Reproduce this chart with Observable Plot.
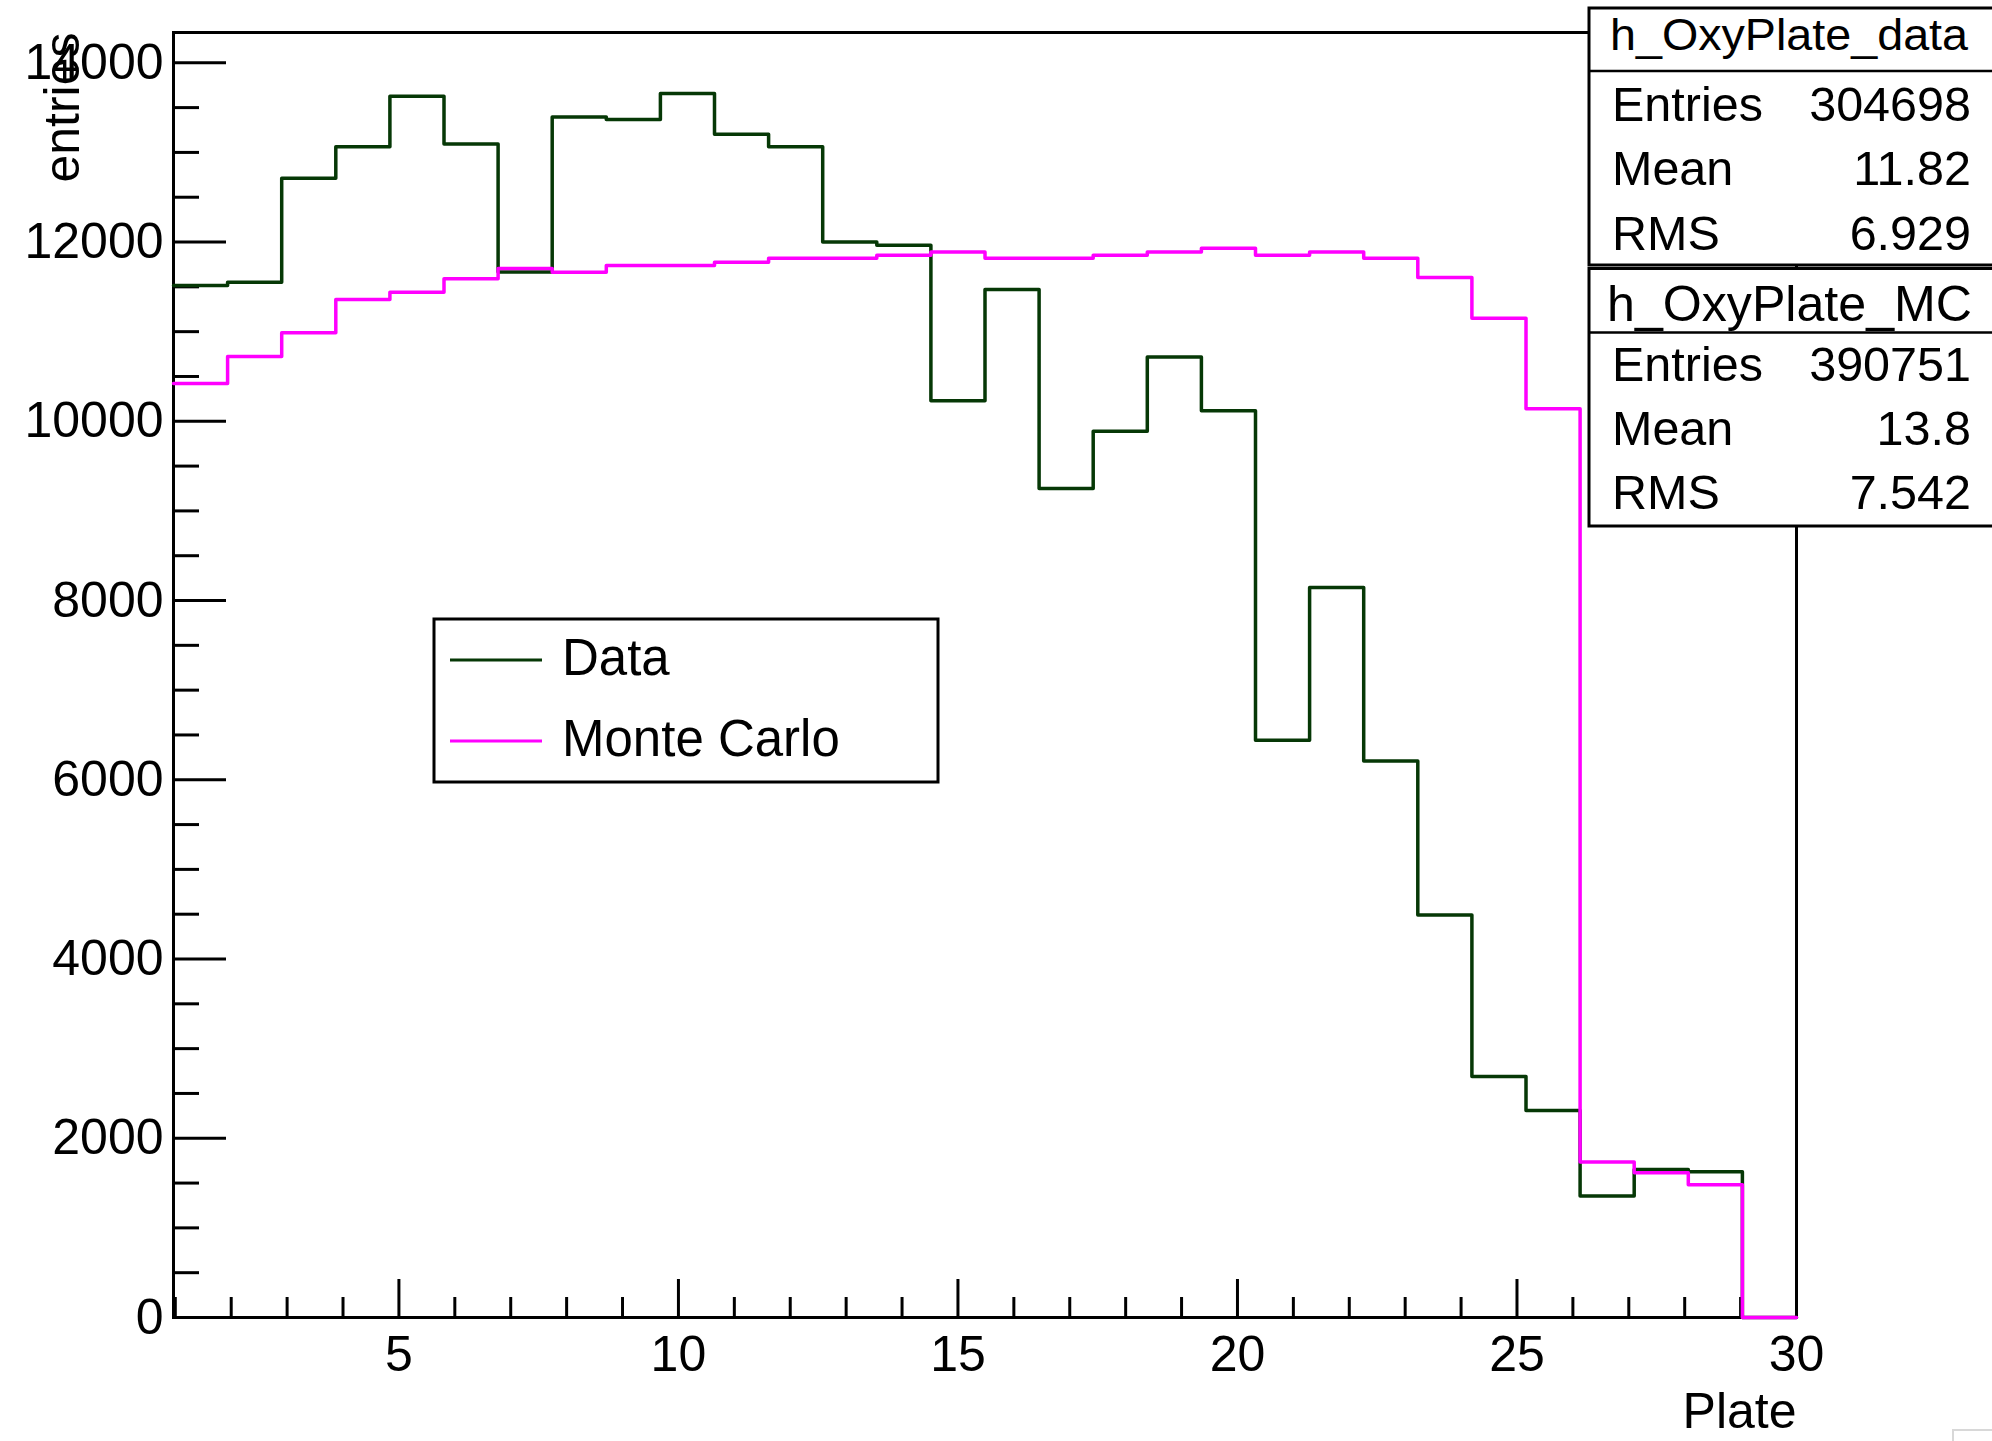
<!DOCTYPE html>
<html><head><meta charset="utf-8">
<script src="https://cdn.jsdelivr.net/npm/d3@7"></script>
<script src="https://cdn.jsdelivr.net/npm/@observablehq/plot@0.6"></script>
<style>
html,body{margin:0;padding:0;background:#fff;}
#wrap{position:relative;width:1992px;height:1441px;overflow:hidden;background:#fff;font-family:"Liberation Sans",Arial,Helvetica,sans-serif;}
#overlay{position:absolute;left:0;top:0;}
</style></head>
<body><div id="wrap"></div>
<script>
// ---- histogram definition (ROOT TH1: 31 bins on [0,30]; shown from bin 2) ----
const nBins = 31, xMin = 0, xMax = 30;
const firstShownBin = 1;

// ---- bin contents (shown bins, left to right) ----
const dataCounts = [11515, 11552, 12711, 13063, 13626, 13093, 11667, 13396, 13367, 13656,
                    13204, 13063, 12000, 11963, 10230, 11470, 9250, 9889, 10718, 10118,
                    6440, 8145, 6210, 4490, 2690, 2310, 1355, 1650, 1625, 0];
const mcCounts   = [10422, 10722, 10989, 11359, 11441, 11589, 11705, 11663, 11737, 11737,
                    11774, 11819, 11819, 11852, 11889, 11819, 11819, 11852, 11889, 11930,
                    11852, 11889, 11819, 11605, 11150, 10140, 1735, 1615, 1480, 0];

const seriesNames  = ["Data", "Monte Carlo"];
const seriesColors = ["#063806", "#ff00ff"];

const statTitles = ["h_OxyPlate_data", "h_OxyPlate_MC"];
const statLabels = ["Entries", "Mean", "RMS"];
const statValues = [["304698", "11.82", "6.929"], ["390751", "13.8", "7.542"]];

const xMajorTicks = [5, 10, 15, 20, 25, 30];
const xMinorTicks = [1, 2, 3, 4, 6, 7, 8, 9, 11, 12, 13, 14, 16, 17, 18, 19, 21, 22, 23, 24, 26, 27, 28, 29];
const yMajorTicks = [0, 2000, 4000, 6000, 8000, 10000, 12000, 14000];
const yMinorTicks = [500, 1000, 1500, 2500, 3000, 3500, 4500, 5000, 5500, 6500, 7000, 7500,
                     8500, 9000, 9500, 10500, 11000, 11500, 12500, 13000, 13500];
const yMax = 14338;
const xTitle = "Plate", yTitle = "entries";

// ---- build step outlines ----
const bw = (xMax - xMin) / nBins;
function steps(counts, name) {
  const pts = counts.map((c, i) => ({x: xMin + (firstShownBin + i) * bw, y: c, s: name}));
  pts.push({x: xMin + (firstShownBin + counts.length) * bw, y: counts[counts.length - 1], s: name});
  return pts;
}
const dataPts = steps(dataCounts, seriesNames[0]);
const mcPts = steps(mcCounts, seriesNames[1]);

const W = 1992, H = 1441;
const mL = 173, mR = 196, mT = 32, mB = 124;
const FONT = "Liberation Sans, Arial, Helvetica, sans-serif";

const chart = Plot.plot({
  width: W, height: H,
  marginLeft: mL, marginRight: mR, marginTop: mT, marginBottom: mB,
  style: {background: "white", color: "black", fontFamily: FONT, fontSize: "50px"},
  x: {domain: [xMin + firstShownBin * bw, xMax], label: null},
  y: {domain: [0, yMax], label: null},
  marks: [
    Plot.frame({stroke: "black", strokeWidth: 3}),
    Plot.axisX(xMinorTicks, {tickSize: -20, tickFormat: () => "", label: null, strokeWidth: 3}),
    Plot.axisX(xMajorTicks, {tickSize: -38, tickFormat: () => "", label: null, strokeWidth: 3}),
    Plot.axisX(xMajorTicks, {tickSize: 0, tickPadding: 18, fontSize: 50, label: null}),
    Plot.axisY(yMinorTicks, {tickSize: -26, tickFormat: () => "", label: null, strokeWidth: 3}),
    Plot.axisY(yMajorTicks, {tickSize: -53, tickFormat: () => "", label: null, strokeWidth: 3}),
    Plot.axisY(yMajorTicks, {tickSize: 0, tickPadding: 10, fontSize: 50, tickFormat: d => String(d), label: null}),
    Plot.text([yTitle], {text: d => d, frameAnchor: "top-left", rotate: -90, textAnchor: "end",
                         lineAnchor: "bottom", dx: -95, fontSize: 50}),
    Plot.text([xTitle], {text: d => d, frameAnchor: "bottom-right", textAnchor: "end",
                         lineAnchor: "bottom", dy: 110, fontSize: 50}),
    Plot.line(dataPts, {x: "x", y: "y", curve: "step-after", stroke: seriesColors[0], strokeWidth: 3.5}),
    Plot.line(mcPts, {x: "x", y: "y", curve: "step-after", stroke: seriesColors[1], strokeWidth: 3.5})
  ]
});
const wrap = document.getElementById("wrap");
wrap.appendChild(chart);

// ---- overlay: legend + stats boxes ----
const ov = d3.select(wrap).append("svg").attr("id", "overlay")
  .attr("width", W).attr("height", H).style("font-family", FONT);

// legend
const leg = ov.append("g");
leg.append("rect").attr("x", 434).attr("y", 619).attr("width", 504).attr("height", 163)
  .attr("fill", "white").attr("stroke", "black").attr("stroke-width", 3);
seriesNames.forEach((n, i) => {
  const yc = 660 + i * 81;
  leg.append("line").attr("x1", 450).attr("x2", 542).attr("y1", yc).attr("y2", yc)
    .attr("stroke", seriesColors[i]).attr("stroke-width", 3);
  leg.append("text").attr("x", 562).attr("y", yc + 15).attr("font-size", 51).text(n);
});

// stats boxes
const boxes = [{top: 8, bottom: 265, div: 71, base: [50, 121, 185, 249.5],
                hSize: 45, hLen: 358, hX: 1610},
               {top: 268.5, bottom: 526, div: 332.5, base: [321, 381, 445, 509],
                hSize: 50, hLen: 365, hX: 1607}];
boxes.forEach((b, j) => {
  const g = ov.append("g");
  g.append("rect").attr("x", 1589).attr("y", b.top).attr("width", 430).attr("height", b.bottom - b.top)
    .attr("fill", "white").attr("stroke", "black").attr("stroke-width", 3);
  g.append("line").attr("x1", 1589).attr("x2", 2000).attr("y1", b.div).attr("y2", b.div)
    .attr("stroke", "black").attr("stroke-width", 2.5);
  g.append("text").attr("x", b.hX).attr("y", b.base[0])
    .attr("font-size", b.hSize).attr("textLength", b.hLen).attr("lengthAdjust", "spacingAndGlyphs")
    .text(statTitles[j]);
  statLabels.forEach((lab, r) => {
    g.append("text").attr("x", 1612).attr("y", b.base[r + 1]).attr("font-size", 48.5).text(lab);
    g.append("text").attr("x", 1971).attr("y", b.base[r + 1]).attr("text-anchor", "end")
      .attr("font-size", 48.5).text(statValues[j][r]);
  });
});

// faint canvas corner at bottom right
ov.append("rect").attr("x", 1953).attr("y", 1430).attr("width", 100).attr("height", 100)
  .attr("fill", "none").attr("stroke", "#d8d8d8").attr("stroke-width", 2);
</script>
</body></html>
